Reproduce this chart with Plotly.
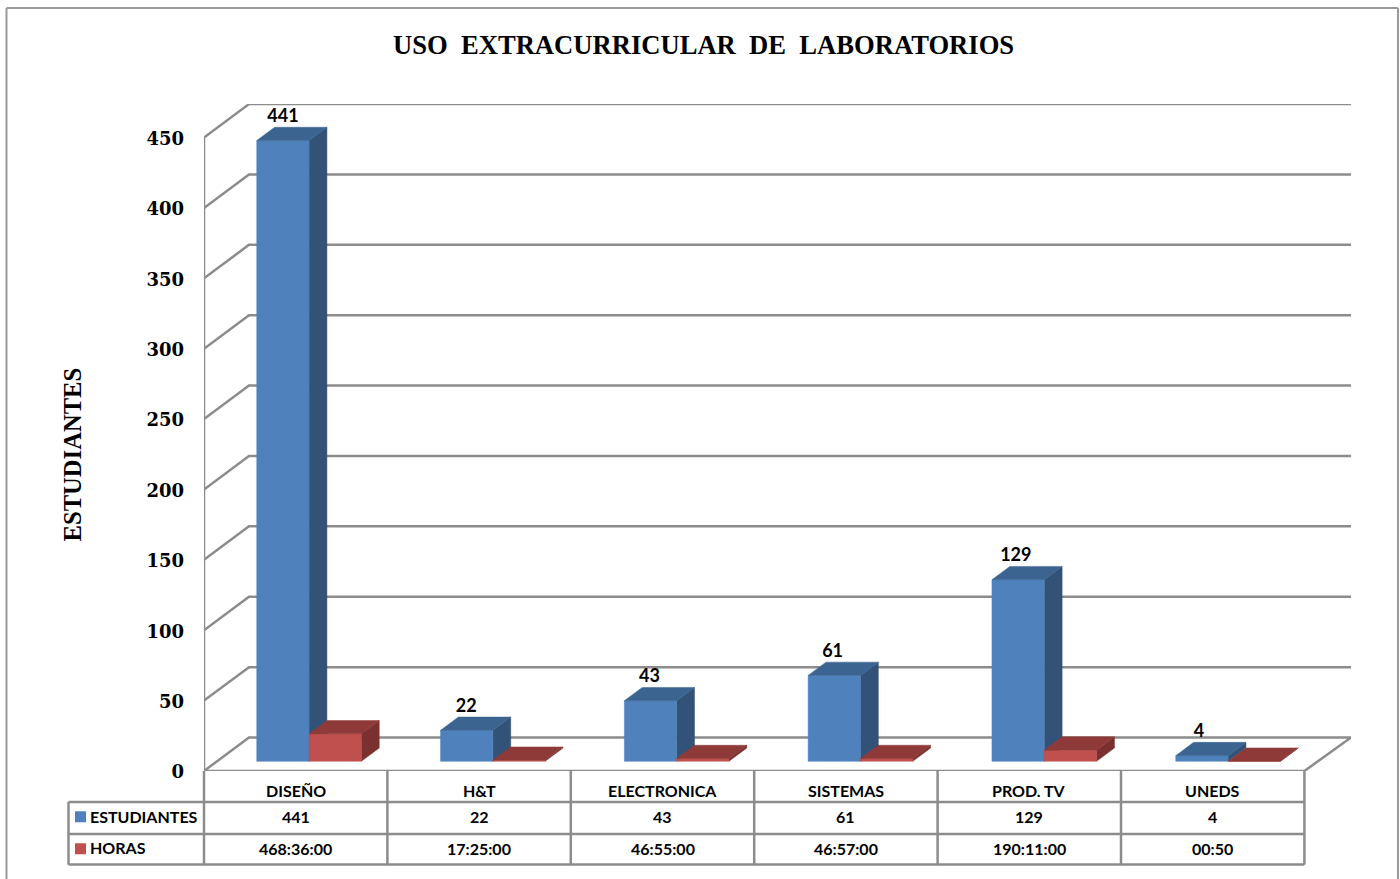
import plotly.graph_objects as go

# ---- data ----
categories = ["DISEÑO", "H&T", "ELECTRONICA", "SISTEMAS", "PROD. TV", "UNEDS"]
estudiantes = [441, 22, 43, 61, 129, 4]
horas_dias = [19.5, 0.73, 1.95, 1.96, 7.92, 0.03]   # hours as plotted, in days
horas_txt = ["468:36:00", "17:25:00", "46:55:00", "46:57:00", "190:11:00", "00:50"]
y_ticks = [0, 50, 100, 150, 200, 250, 300, 350, 400, 450]

# ---- page geometry ----
W, H = 1400, 879
PL, PR, PT, PB = 204.0, 1351.0, 103.5, 770.7     # plot box in pixels
COL = 183.8                                     # spacing between bar groups
TCOL = 183.4                                    # table column width
YS = 1.408                                      # pixels per unit
XMIN = -(296.0 - PL) / COL
XMAX = XMIN + (PR - PL) / COL
YMAX = (PB - PT) / YS
DEPTH_X = 45.0 / COL                            # floor depth in x units
DEPTH_Y = 33.5 / YS                             # floor depth in y units
D0, D1 = 0.29, 0.687                            # bar front / back depth
BW = 52.3 / COL                                 # bar width in x units
GRID = "#8c8c8c"
INK = "#000000"
BLUE = ("#4F81BD", "#3C6491", "#325278")
RED = ("#C0504D", "#8E3A38", "#79302E")


def proj(x, v, d):
    return x + d * DEPTH_X, v + d * DEPTH_Y


def poly(points, color):
    return go.Scatter(
        x=[p[0] for p in points] + [points[0][0]],
        y=[p[1] for p in points] + [points[0][1]],
        mode="lines", fill="toself", fillcolor=color,
        line=dict(color=color, width=0.5), hoverinfo="skip", showlegend=False,
    )


def bar_3d(x0, x1, v, colors):
    front, top, side = colors
    traces = [
        poly([proj(x1, 0, D0), proj(x1, 0, D1), proj(x1, v, D1), proj(x1, v, D0)], side),
        poly([proj(x0, 0, D0), proj(x1, 0, D0), proj(x1, v, D0), proj(x0, v, D0)], front),
        poly([proj(x0, v, D0), proj(x1, v, D0), proj(x1, v, D1), proj(x0, v, D1)], top),
    ]
    return traces


fig = go.Figure()

# gridlines: front axis -> back wall -> right end
for t in y_ticks:
    a = proj(XMIN, t, 0)
    b = proj(XMIN, t, 1)
    c = (XMAX, b[1])
    fig.add_trace(go.Scatter(x=[a[0], b[0], c[0]], y=[a[1], b[1], c[1]], mode="lines",
                             line=dict(color=GRID, width=2.5), hoverinfo="skip",
                             showlegend=False, cliponaxis=False))

# floor and front axis
right_front = XMIN + len(categories) * TCOL / COL
fig.add_trace(go.Scatter(
    x=[XMIN, right_front, XMAX], y=[0, 0, DEPTH_Y], mode="lines",
    line=dict(color=GRID, width=2.5), hoverinfo="skip", showlegend=False, cliponaxis=False))
fig.add_trace(go.Scatter(
    x=[XMIN, XMIN], y=[0, y_ticks[-1]], mode="lines",
    line=dict(color=GRID, width=2.5), hoverinfo="skip", showlegend=False, cliponaxis=False))

# bars
for i, (e, h) in enumerate(zip(estudiantes, horas_dias)):
    for tr in bar_3d(i - BW, i, e, BLUE):
        fig.add_trace(tr)
    for tr in bar_3d(i, i + BW, h, RED):
        fig.add_trace(tr)

# value labels (follow the slightly narrower label spacing of the original)
lab_x = [XMIN + (283.0 - PL + i * 183.2) / COL for i in range(len(estudiantes))]
lab_y = [proj(0, e, D1)[1] + 0.7 for e in estudiantes]
fig.add_trace(go.Scatter(
    x=lab_x, y=lab_y,
    mode="text", text=[str(e) for e in estudiantes], textposition="top center",
    textfont=dict(family="Lato", size=18, color=INK, weight="bold"),
    hoverinfo="skip", showlegend=False, cliponaxis=False))


# ---- page-level furniture (pixel helpers) ----
def fx(px):
    return (px - PL) / (PR - PL)


def fy(py):
    return (PB - py) / (PB - PT)


def hline(x0, x1, y, color=GRID, width=2.5):
    return dict(type="line", xref="paper", yref="paper", x0=fx(x0), x1=fx(x1),
                y0=fy(y), y1=fy(y), line=dict(color=color, width=width), layer="above")


def vline(x, y0, y1, color=GRID, width=2.5):
    return dict(type="line", xref="paper", yref="paper", x0=fx(x), x1=fx(x),
                y0=fy(y0), y1=fy(y1), line=dict(color=color, width=width), layer="above")


shapes = []
# outer frame
shapes += [hline(6.5, 1398, 7.5, "#9a9a9a", 2), vline(6.5, 7.5, 879, "#9a9a9a", 2), vline(1398, 7.5, 879, "#9a9a9a", 2)]
# data table
TL, TC0 = 68.5, 204.0
R0, R1, R2, R3 = 770.7, 801.7, 833.7, 864.3
TR = TC0 + len(categories) * TCOL
shapes += [hline(TL, TR, R1), hline(TL, TR, R2), hline(TL, TR, R3), vline(TL, R1, R3)]
for k in range(len(categories) + 1):
    shapes.append(vline(TC0 + k * TCOL, R0, R3))
# legend keys
for (yy, col) in ((811, BLUE[0]), (843, RED[0])):
    shapes.append(dict(type="rect", xref="paper", yref="paper", x0=fx(75), x1=fx(86),
                       y0=fy(yy), y1=fy(yy + 11), fillcolor=col, line=dict(width=0), layer="above"))

annotations = []


def note(text, px, py, size=16, family="Lato", xanchor="center", **kw):
    annotations.append(dict(text=text, xref="paper", yref="paper", x=fx(px), y=fy(py),
                            showarrow=False, xanchor=xanchor, yanchor="middle",
                            font=dict(family=family, size=size, color=INK, weight="bold"), **kw))


note("USO  EXTRACURRICULAR  DE  LABORATORIOS", 703, 44.5, size=26.6, family="Liberation Serif")
note("ESTUDIANTES", 72, 454, size=24.6, family="Liberation Serif", textangle=-90)
note("ESTUDIANTES", 88, 816.5, xanchor="left")
note("HORAS", 88, 847.5, xanchor="left")
for i, (c, e, h) in enumerate(zip(categories, estudiantes, horas_txt)):
    cx = TC0 + (i + 0.5) * TCOL
    note(c, cx, 790.5)
    note(str(e), cx, 816.5)
    note(h, cx, 848.5)

fig.update_layout(
    width=W, height=H, autosize=False,
    margin=dict(l=PL, r=W - PR, t=PT, b=H - PB, pad=0),
    paper_bgcolor="white", plot_bgcolor="white",
    showlegend=False, shapes=shapes, annotations=annotations,
    xaxis=dict(range=[XMIN, XMAX], visible=False, fixedrange=True),
    yaxis=dict(range=[0, YMAX], tickmode="array", tickvals=y_ticks,
               ticktext=[str(t) for t in y_ticks], showgrid=False, zeroline=False,
               showline=False, ticks="", ticklabelstandoff=19, ticklabelshift=1, fixedrange=True,
               tickfont=dict(family="DejaVu Serif", size=18, color=INK, weight="bold")),
)

fig.write_html("out.html", config=dict(displayModeBar=False),
               post_script="document.body.style.margin='0';document.body.style.overflow='hidden';")
